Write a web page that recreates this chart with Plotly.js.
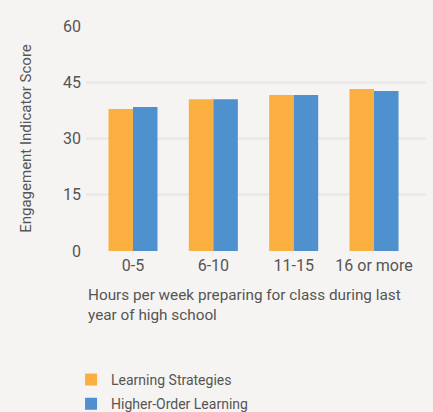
<!DOCTYPE html>
<html>
<head>
<meta charset="utf-8">
<script src="https://cdn.plot.ly/plotly-3.0.1.min.js"></script>
<style>html,body{margin:0;padding:0;background:#f5f4f2;}#chart{width:433px;height:412px;}</style>
</head>
<body>
<div id="chart"></div>
<script>
var categories = ["0-5", "6-10", "11-15", "16 or more"];
var learningStrategies = [37.9, 40.5, 41.6, 43.2];
var higherOrderLearning = [38.4, 40.5, 41.6, 42.7];
var yTicks = [0, 15, 30, 45, 60];

var font = "Roboto, 'Liberation Sans', sans-serif";
var textColor = "#555555";

var data = [
  {type: "bar", name: "Learning Strategies", x: categories, y: learningStrategies,
   legendgroup: "a", marker: {color: "#fbaf41"}},
  {type: "bar", name: "Higher-Order Learning", x: categories, y: higherOrderLearning,
   legendgroup: "b", marker: {color: "#4f91ce"}}
];

var layout = {
  width: 433, height: 412,
  paper_bgcolor: "#f5f4f2", plot_bgcolor: "#f5f4f2",
  margin: {l: 86, r: 7, t: 26, b: 161, autoexpand: false},
  barmode: "group", bargap: 0.39, bargroupgap: 0,
  font: {family: font, color: textColor, size: 15},
  showlegend: true,
  legend: {orientation: "v", x: -0.044, xanchor: "left",
           y: -0.502, yanchor: "top",
           traceorder: "grouped", tracegroupgap: 3,
           font: {family: font, size: 14, color: textColor}, bgcolor: "rgba(0,0,0,0)",
           itemwidth: 30},
  xaxis: {type: "category", range: [-0.585, 3.647], showgrid: false, zeroline: false,
          showline: false, ticks: "", tickangle: 0, automargin: false,
          ticklabelstandoff: 3,
          tickfont: {size: 16, color: textColor}, fixedrange: true},
  yaxis: {range: [0, 60], tickvals: yTicks, showgrid: true, gridcolor: "#ebeae8", gridwidth: 3,
          zeroline: false, showline: false, ticks: "", ticklen: 0, automargin: false,
          ticklabelstandoff: 4,
          tickfont: {size: 16, color: textColor},
          title: {text: "Engagement Indicator Score", font: {size: 15, color: textColor}, standoff: 27}},
  annotations: [
    {xref: "paper", yref: "paper", x: 0, y: -0.145, xanchor: "left", yanchor: "top", xshift: 0,
     align: "left", showarrow: false,
     text: "Hours per week preparing for class during last<br>year of high school",
     font: {family: font, size: 15.3, color: textColor}}
  ]
};

Plotly.newPlot("chart", data, layout, {displayModeBar: false, staticPlot: true});
</script>
</body>
</html>
